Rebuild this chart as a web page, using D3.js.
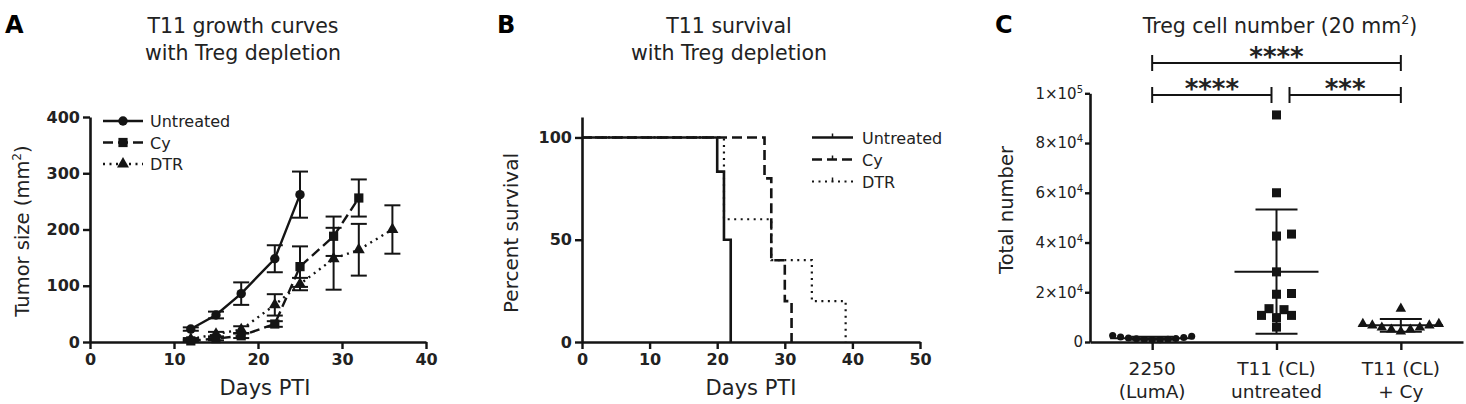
<!DOCTYPE html>
<html>
<head>
<meta charset="utf-8">
<script src="https://cdn.jsdelivr.net/npm/d3@7"></script>
<style>
    body { margin: 0; background: #fff; }
    svg { display: block; font-family: "DejaVu Sans", sans-serif; }
</style>
</head>
<body>
<svg id="chart" width="1466" height="404"></svg>
<script>
// ---- Panel A: T11 growth curves (mean tumor size +/- error) ----
const untreatedDays = [12, 15, 18, 22, 25];
const untreatedSize = [23, 48, 86, 148, 262];
const untreatedErr = [3, 6, 20, 24, 41];
const cyDays = [12, 15, 18, 22, 25, 29, 32];
const cySize = [2, 6, 11, 32, 134, 188, 256];
const cyErr = [2, 3, 4, 5, 36, 35, 33];
const dtrDays = [12, 15, 18, 22, 25, 29, 32, 36];
const dtrSize = [5, 14, 22, 66, 103, 148, 164, 200];
const dtrErr = [2, 4, 6, 19, 11, 55, 46, 43];
const growthTicksX = [0, 10, 20, 30, 40];
const growthTicksY = [0, 100, 200, 300, 400];

// ---- Panel B: T11 survival (Kaplan-Meier steps) ----
const survUntreatedDays = [0, 20, 21, 22];
const survUntreatedPct = [100, 83.3, 50, 0];
const survCyDays = [0, 27, 28, 30, 31];
const survCyPct = [100, 80, 40, 20, 0];
const survDtrDays = [0, 21, 28, 34, 39];
const survDtrPct = [100, 60, 40, 20, 0];
const survTicksX = [0, 10, 20, 30, 40, 50];
const survTicksY = [0, 50, 100];

// ---- Panel C: Treg cell number ----
const groupIds = ['luma', 't11', 't11cy'];
const groupLine1 = ['2250', 'T11 (CL)', 'T11 (CL)'];
const groupLine2 = ['(LumA)', 'untreated', '+ Cy'];
const lumaCells = [2600, 2000, 1600, 1300, 1000, 800, 900, 1100, 1400, 1800, 2300];
const t11Cells = [91300, 60000, 42600, 43400, 28200, 19200, 19500, 10700, 13400, 9800, 13000, 10700, 6000];
const t11CyCells = [7300, 6700, 5800, 5000, 13400, 4200, 5000, 5800, 6700, 7300];
const cellTicksY = [0, 20000, 40000, 60000, 80000, 100000];
const sigPairs = [[0, 2], [0, 1], [1, 2]];
const sigLabels = ['****', '****', '***'];

const ink = '#141414';
const textInk = '#222';
const font = '"DejaVu Sans", sans-serif';
const svg = d3.select('#chart');

function styleAxis(g, fontSize, weight) {
    g.attr('font-family', null).attr('font-size', null);
    g.select('.domain').attr('stroke', ink).attr('stroke-width', 2.6);
    g.selectAll('.tick line').attr('stroke', ink).attr('stroke-width', 2.4);
    g.selectAll('.tick text')
        .attr('fill', textInk)
        .attr('font-family', font)
        .attr('font-size', fontSize)
        .attr('font-weight', weight);
}

function addText(parent, x, y, str, size, opts = {}) {
    return parent.append('text')
        .attr('x', x).attr('y', y)
        .attr('text-anchor', opts.anchor || 'middle')
        .attr('font-size', size)
        .attr('font-weight', opts.weight || 'normal')
        .attr('fill', textInk)
        .attr('transform', opts.rotate ? `rotate(-90,${x},${y})` : null)
        .text(str);
}

// superscript helper: base text + raised small text (+ optional trailing text)
function addSupText(parent, x, y, base, sup, tail, size, opts = {}) {
    const t = addText(parent, x, y, null, size, opts);
    t.append('tspan').text(base);
    t.append('tspan').attr('font-size', size * 0.62).attr('dy', -size * 0.42).text(sup);
    if (tail) t.append('tspan').attr('dy', size * 0.42).text(tail);
    return t;
}

// ================= Panel A =================
const xA = d3.scaleLinear().domain([0, 40]).range([90, 426]);
const yA = d3.scaleLinear().domain([0, 400]).range([342, 117]);
const gA = svg.append('g');

addText(gA, 5, 33, 'A', 24, { anchor: 'start', weight: 'bold' }).attr('fill', '#000');
addText(gA, 243, 33, 'T11 growth curves', 20.5);
addText(gA, 243, 60, 'with Treg depletion', 20.5);

gA.append('g')
    .attr('transform', `translate(0,${yA(0)})`)
    .call(d3.axisBottom(xA).tickValues(growthTicksX).tickSize(7).tickPadding(5).tickSizeOuter(0))
    .call(g => styleAxis(g, 16, 'bold'));
gA.append('g')
    .attr('transform', `translate(${xA(0)},0)`)
    .call(d3.axisLeft(yA).tickValues(growthTicksY).tickSize(7).tickPadding(3).tickSizeOuter(0))
    .call(g => styleAxis(g, 16, 'bold'));

addSupText(gA, 29, 231, 'Tumor size (mm', '2', ')', 19.5, { rotate: true });
addText(gA, 265, 395, 'Days PTI', 21);

const growth = [
    { name: 'DTR', days: dtrDays, size: dtrSize, err: dtrErr, dash: '2,4.5', symbol: d3.symbolTriangle, area: 62 },
    { name: 'Cy', days: cyDays, size: cySize, err: cyErr, dash: '10,5', symbol: d3.symbolSquare, area: 85 },
    { name: 'Untreated', days: untreatedDays, size: untreatedSize, err: untreatedErr, dash: null, symbol: d3.symbolCircle, area: 70 }
];

const lineA = d3.line().x(d => xA(d.day)).y(d => yA(d.size));

growth.forEach(s => {
    const pts = s.days.map((day, i) => ({ day, size: s.size[i], err: s.err[i] }));
    const g = gA.append('g');

    g.append('path')
        .datum(pts)
        .attr('d', lineA)
        .attr('fill', 'none')
        .attr('stroke', ink)
        .attr('stroke-width', 2.4)
        .attr('stroke-dasharray', s.dash);

    // error bars
    const eb = g.selectAll('.eb').data(pts).enter().append('g');
    eb.append('line')
        .attr('x1', d => xA(d.day)).attr('x2', d => xA(d.day))
        .attr('y1', d => yA(d.size - d.err)).attr('y2', d => yA(d.size + d.err))
        .attr('stroke', ink).attr('stroke-width', 2);
    [-1, 1].forEach(sign => {
        eb.append('line')
            .attr('x1', d => xA(d.day) - 8).attr('x2', d => xA(d.day) + 8)
            .attr('y1', d => yA(d.size + sign * d.err)).attr('y2', d => yA(d.size + sign * d.err))
            .attr('stroke', ink).attr('stroke-width', 2);
    });

    g.selectAll('.pt').data(pts).enter().append('path')
        .attr('transform', d => `translate(${xA(d.day)},${yA(d.size)})`)
        .attr('d', d3.symbol().type(s.symbol).size(s.area))
        .attr('fill', ink);
});

// legend A
const legendA = gA.append('g');
['Untreated', 'Cy', 'DTR'].forEach((name, i) => {
    const s = growth.find(d => d.name === name);
    const y = 121 + i * 21.5;
    legendA.append('line')
        .attr('x1', 103).attr('x2', 143).attr('y1', y).attr('y2', y)
        .attr('stroke', ink).attr('stroke-width', 2.4)
        .attr('stroke-dasharray', s.dash);
    legendA.append('path')
        .attr('transform', `translate(123,${y})`)
        .attr('d', d3.symbol().type(s.symbol).size(s.area))
        .attr('fill', ink);
    addText(legendA, 150, y + 6, name, 16, { anchor: 'start' });
});

// ================= Panel B =================
const xB = d3.scaleLinear().domain([0, 50]).range([582, 920]);
const yB = d3.scaleLinear().domain([0, 110]).range([342, 117]);
const gB = svg.append('g');

addText(gB, 497, 33, 'B', 24, { anchor: 'start', weight: 'bold' }).attr('fill', '#000');
addText(gB, 729, 33, 'T11 survival', 20.5);
addText(gB, 729, 60, 'with Treg depletion', 20.5);

gB.append('g')
    .attr('transform', `translate(0,${yB(0)})`)
    .call(d3.axisBottom(xB).tickValues(survTicksX).tickSize(7).tickPadding(5).tickSizeOuter(0))
    .call(g => styleAxis(g, 16, 'bold'));
gB.append('g')
    .attr('transform', `translate(${xB(0)},0)`)
    .call(d3.axisLeft(yB).tickValues(survTicksY).tickSize(7).tickPadding(3).tickSizeOuter(0))
    .call(g => styleAxis(g, 16, 'bold'));

addText(gB, 518, 233, 'Percent survival', 20, { rotate: true });
addText(gB, 751, 395, 'Days PTI', 21);

const survival = [
    { name: 'DTR', days: survDtrDays, pct: survDtrPct, dash: '2,4.5', width: 2.2 },
    { name: 'Cy', days: survCyDays, pct: survCyPct, dash: '10,5', width: 2.6 },
    { name: 'Untreated', days: survUntreatedDays, pct: survUntreatedPct, dash: null, width: 2.6 }
];
const lineB = d3.line().x(d => xB(d.day)).y(d => yB(d.pct)).curve(d3.curveStepAfter);

survival.forEach(s => {
    const pts = s.days.map((day, i) => ({ day, pct: s.pct[i] }));
    gB.append('path')
        .datum(pts)
        .attr('d', lineB)
        .attr('fill', 'none')
        .attr('stroke', ink)
        .attr('stroke-width', s.width)
        .attr('stroke-dasharray', s.dash);
});

// legend B
const legendB = gB.append('g');
['Untreated', 'Cy', 'DTR'].forEach((name, i) => {
    const s = survival.find(d => d.name === name);
    const y = 137.5 + i * 22;
    legendB.append('line')
        .attr('x1', 812).attr('x2', 853).attr('y1', y).attr('y2', y)
        .attr('stroke', ink).attr('stroke-width', s.width)
        .attr('stroke-dasharray', s.dash);
    legendB.append('line')
        .attr('x1', 832.5).attr('x2', 832.5).attr('y1', y - 4).attr('y2', y)
        .attr('stroke', ink).attr('stroke-width', 1.5);
    addText(legendB, 862, y + 6, name, 16, { anchor: 'start' });
});

// ================= Panel C =================
const xC = d3.scalePoint().domain(groupIds).range([1090, 1463]).padding(0.5);
const yC = d3.scaleLinear().domain([0, 100000]).range([342, 93.3]);
const gC = svg.append('g');

addText(gC, 995, 33, 'C', 24, { anchor: 'start', weight: 'bold' }).attr('fill', '#000');
addSupText(gC, 1280, 33, 'Treg cell number (20 mm', '2', ')', 20.5);

const yAxisC = gC.append('g')
    .attr('transform', `translate(${xC.range()[0]},0)`)
    .call(d3.axisLeft(yC).tickValues(cellTicksY).tickSize(5).tickPadding(2).tickSizeOuter(0).tickFormat(() => ''))
    .call(g => styleAxis(g, 15, 'normal'));

// scientific labels like 2×10^4
yAxisC.selectAll('.tick text').each(function (d) {
    const t = d3.select(this);
    if (d === 0) { t.text('0'); return; }
    const exp = Math.floor(Math.log10(d));
    const mant = Math.round(d / Math.pow(10, exp));
    t.append('tspan').text(`${mant}×10`);
    t.append('tspan').attr('font-size', 10).attr('dy', -6).text(exp);
});

gC.append('g')
    .attr('transform', `translate(0,${yC(0)})`)
    .call(d3.axisBottom(xC).tickSize(8).tickSizeOuter(0).tickFormat(() => ''))
    .call(g => styleAxis(g, 18, 'normal'));

groupIds.forEach((id, i) => {
    addText(gC, xC(id), 375, groupLine1[i], 18.5);
    addText(gC, xC(id), 398, groupLine2[i], 18.5);
});

addText(gC, 1013, 210, 'Total number', 19.5, { rotate: true });

// simple beeswarm: lowest first, nudge sideways until no overlap
function swarm(values, cx, step, minDist) {
    const placed = [];
    const out = new Array(values.length);
    const order = d3.range(values.length).sort((a, b) => values[a] - values[b]);
    order.forEach(i => {
        const y = yC(values[i]);
        for (let k = 0; k < 60; k++) {
            const off = k === 0 ? 0 : (k % 2 ? 1 : -1) * Math.ceil(k / 2) * step;
            const clash = placed.some(p => Math.hypot(p.x - off, p.y - y) < minDist);
            if (!clash) {
                placed.push({ x: off, y });
                out[i] = { x: cx + off, y };
                break;
            }
        }
    });
    return out;
}

const cellGroups = [
    { id: 'luma', values: lumaCells, symbol: d3.symbolCircle, area: 40, step: 7.9, minDist: 7.5 },
    { id: 't11', values: t11Cells, symbol: d3.symbolSquare, area: 82, step: 7.5, minDist: 8.5 },
    { id: 't11cy', values: t11CyCells, symbol: d3.symbolTriangle, area: 48, step: 9.5, minDist: 9 }
];

cellGroups.forEach(grp => {
    const cx = xC(grp.id);
    const g = gC.append('g');
    const pos = swarm(grp.values, cx, grp.step, grp.minDist);

    g.selectAll('path').data(pos).enter().append('path')
        .attr('transform', d => `translate(${d.x},${d.y})`)
        .attr('d', d3.symbol().type(grp.symbol).size(grp.area))
        .attr('fill', ink);

    const mean = d3.mean(grp.values);
    const sd = d3.deviation(grp.values);
    const stroke = l => l.attr('stroke', ink).attr('stroke-width', 2);
    g.append('line').attr('x1', cx - 42).attr('x2', cx + 42).attr('y1', yC(mean)).attr('y2', yC(mean)).call(stroke);
    g.append('line').attr('x1', cx).attr('x2', cx).attr('y1', yC(mean - sd)).attr('y2', yC(mean + sd)).call(stroke);
    [mean - sd, mean + sd].forEach(v => {
        g.append('line').attr('x1', cx - 21).attr('x2', cx + 21).attr('y1', yC(v)).attr('y2', yC(v)).call(stroke);
    });
});

// significance brackets
const bracketY = [63, 95, 95];
const bracketTrim = [[0, 0], [0, -5], [13, 0]];
sigPairs.forEach((pair, i) => {
    const x1 = xC(groupIds[pair[0]]) + bracketTrim[i][0];
    const x2 = xC(groupIds[pair[1]]) + bracketTrim[i][1];
    const y = bracketY[i];
    const g = gC.append('g').attr('stroke', ink).attr('stroke-width', 2);
    g.append('line').attr('x1', x1).attr('x2', x2).attr('y1', y).attr('y2', y);
    g.append('line').attr('x1', x1).attr('x2', x1).attr('y1', y - 8).attr('y2', y + 8);
    g.append('line').attr('x1', x2).attr('x2', x2).attr('y1', y - 8).attr('y2', y + 8);
    addText(gC, (x1 + x2) / 2, y + 3, sigLabels[i], 26, { weight: 'bold' });
});
</script>
</body>
</html>
